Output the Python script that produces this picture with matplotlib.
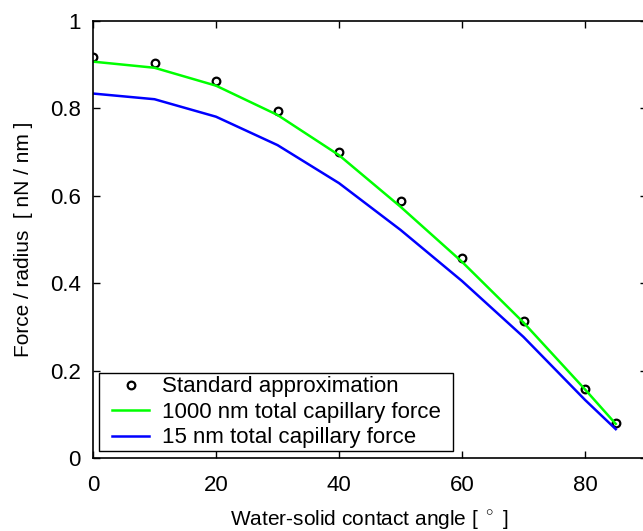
import matplotlib
matplotlib.use("Agg")
import matplotlib.pyplot as plt
from matplotlib.patches import Rectangle

angles = [0, 10, 20, 30, 40, 50, 60, 70, 80, 85]
standard = [0.917, 0.903, 0.862, 0.794, 0.701, 0.589, 0.458, 0.314, 0.159, 0.081]
total_1000 = [0.907, 0.893, 0.852, 0.785, 0.693, 0.575, 0.449, 0.310, 0.157, 0.078]
total_15 = [0.834, 0.821, 0.781, 0.716, 0.629, 0.522, 0.405, 0.277, 0.133, 0.066]

plt.rcParams['font.family'] = ['Liberation Sans', 'DejaVu Sans']
plt.rcParams['mathtext.fontset'] = 'custom'
plt.rcParams['mathtext.rm'] = 'Liberation Sans'

FS = 16
LFS = 15
W, H = 643, 531
fig = plt.figure(figsize=(W / 100, H / 100), dpi=100)
ax = fig.add_axes([93 / W, (H - 458) / H, 553.5 / W, 437 / H])

ax.plot(angles, standard, 'o', mfc='none', mec='black', mew=1.6, ms=5.5,
        label='Standard approximation')
ax.plot(angles, total_1000, '-', color='#00ff00', lw=1.8,
        label='1000 nm total capillary force')
ax.plot(angles, total_15, '-', color='#0000ff', lw=1.8,
        label='15 nm total capillary force')

ax.set_xlim(0, 90)
ax.set_ylim(0, 1)
ax.set_xticks([0, 20, 40, 60, 80])
ax.set_yticks([0, 0.2, 0.4, 0.6, 0.8, 1])
ax.set_yticklabels(['0', '0.2', '0.4', '0.6', '0.8', '1'])
ax.tick_params(direction='in', top=True, right=True, length=5, width=1,
               labelsize=FS)
ax.tick_params(axis='x', pad=12)
ax.tick_params(axis='y', pad=9)
for s in ax.spines.values():
    s.set_linewidth(1.2)

ax.set_xlabel('Water-solid contact angle [ $^\\circ$ ]', fontsize=LFS, labelpad=9)
ax.set_ylabel('Force / radius  [ nN / nm ]', fontsize=LFS, labelpad=12)

leg = ax.legend(loc='lower left', bbox_to_anchor=(0.0343, 0.022), borderaxespad=0,
                fontsize=FS, frameon=False,
                handlelength=1.67, handletextpad=0.59, labelspacing=0.2,
                borderpad=0.0)

fig.canvas.draw()
bb = leg.get_window_extent()
x0, y0, x1, y1 = bb.x0 - 13, bb.y0 - 3, bb.x1 + 12, bb.y1 + 3
rect = Rectangle((x0 / W, y0 / H), (x1 - x0) / W, (y1 - y0) / H,
                 transform=fig.transFigure, fill=True, facecolor='white',
                 edgecolor='black', lw=1.0, zorder=4)
fig.add_artist(rect)
leg.set_zorder(5)
leg.remove()
fig.add_artist(leg)
leg.set_zorder(5)

fig.savefig('out.png', dpi=100)
